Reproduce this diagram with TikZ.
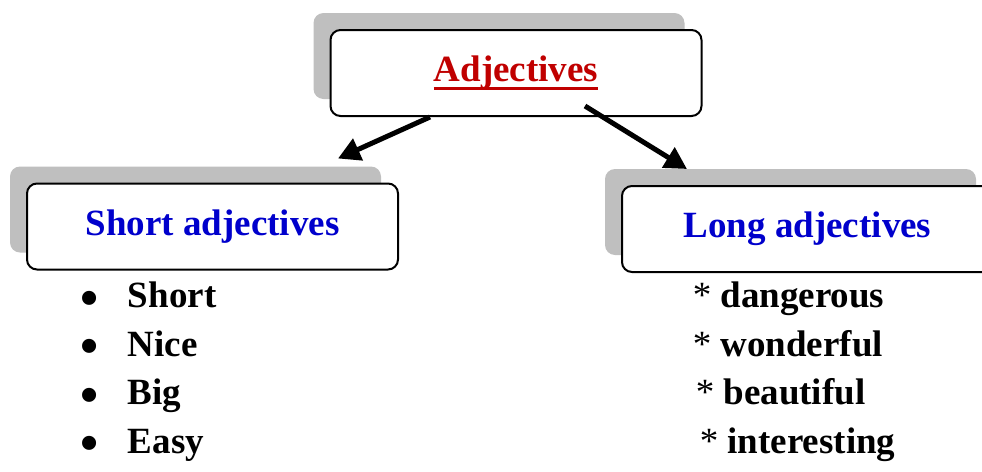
\documentclass[tikz,border=0pt]{standalone}
\usepackage{fontspec}
\setmainfont{Liberation Serif}
\usepackage{graphicx}
\usepackage{tikz}
\usepackage{xcolor}
\usetikzlibrary{shadows}
\usetikzlibrary{arrows.meta}
\definecolor{headred}{HTML}{C00000}
\definecolor{headblue}{HTML}{0000CC}
\definecolor{shadegray}{HTML}{BFBFBF}
\newcommand{\headrule}[1]{\setbox0\hbox{#1}\rlap{\rule[-3.8pt]{\wd0}{1.3pt}}\box0}
\newcommand{\bigdot}{\raisebox{-3.9pt}{\scalebox{1.4}{\textbullet}}}

\begin{document}
\begin{tikzpicture}
	[x=0.5pt, y=-0.5pt, thick,
	box/.style = {draw, line width=1pt, rounded corners=5pt, fill=white, minimum width=185.5pt, minimum height=43pt, inner sep=0pt, font=\fontsize{18.5}{22}\selectfont\bfseries, general shadow={fill=shadegray, shadow xshift=-8.5pt, shadow yshift=8.5pt}},
	word/.style = {anchor=base west, inner sep=0pt, font=\fontsize{18.5}{22}\selectfont\bfseries},
	link/.style = {line width=2.5pt, -{Triangle[length=11pt, width=11.5pt]}}]
	\clip (0,0) rectangle (982,472);
	\node[box, text=headred] (top) at (516,73) {\headrule{Adjectives}};
	\node[box, text=headblue] (short) at (212.5,226.5) {Short adjectives};
	\node[box, text=headblue] (long) at (807.5,229) {Long adjectives};
	\draw[link] ([xshift=-43pt]top.south) -- ([xshift=62.75pt, yshift=12pt]short.north);
	\draw[link] ([xshift=34.5pt, yshift=5.5pt]top.south) -- ([xshift=-60.25pt, yshift=8pt]long.north);
	\foreach \w [count=\i] in {Short, Nice, Big, Easy}
		\node[word] (s\i) at (80, 259+48.5*\i) {\bigdot\hspace{14.5pt}\w};
	\foreach \w/\dx [count=\i] in {dangerous/0, wonderful/0, beautiful/3, interesting/7}
		\node[word] (l\i) at (692+\dx, 259+48.5*\i) {{\mdseries *} \w};
\end{tikzpicture}
\end{document}
